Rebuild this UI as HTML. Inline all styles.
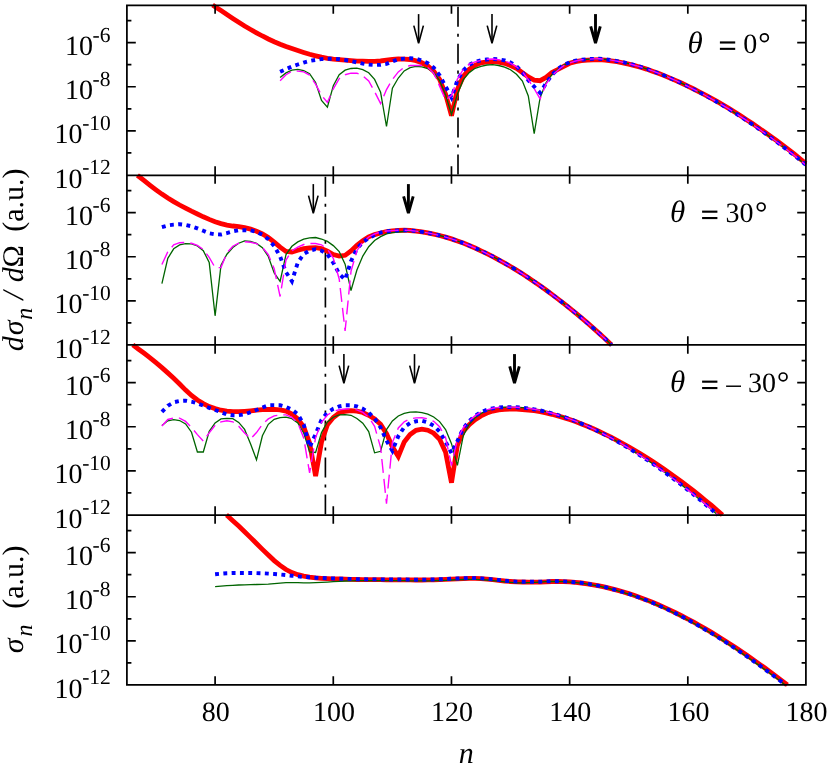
<!DOCTYPE html>
<html><head><meta charset="utf-8"><title>chart</title>
<style>html,body{margin:0;padding:0;background:#fff;}svg{display:block;will-change:transform;text-rendering:geometricPrecision;font-family:"Liberation Serif",serif;}.t{font-size:28px;fill:#000;}.s{font-size:21.5px;fill:#000;}.a{font-size:30px;fill:#000;}.b{font-size:24px;fill:#000;}.i{font-style:italic;}</style></head><body>
<svg width="830" height="766" viewBox="0 0 830 766">
<rect x="0" y="0" width="830" height="766" fill="#fff"/>
<defs>
<clipPath id="c0"><rect x="127.0" y="3.0" width="680.5" height="174.0"/></clipPath>
<clipPath id="c1"><rect x="127.0" y="173.0" width="680.5" height="174.0"/></clipPath>
<clipPath id="c2"><rect x="127.0" y="343.0" width="680.5" height="174.0"/></clipPath>
<clipPath id="c3"><rect x="127.0" y="513.0" width="680.5" height="174.0"/></clipPath>
</defs>
<g stroke="#000" stroke-width="1.65" fill="none" stroke-dasharray="20 6.9 3.1 6.9">
<line x1="458.0" y1="6.8" x2="458.0" y2="175.0"/>
<line x1="325.4" y1="176.8" x2="325.4" y2="345.0"/>
<line x1="325.4" y1="346.8" x2="325.4" y2="515.0"/>
</g>
<g stroke="#000" stroke-width="1.6" fill="none" stroke-linejoin="bevel"><line x1="418.6" y1="14.1" x2="418.6" y2="42.20"/><polyline points="413.80,25.60 418.6,43.20 423.40,25.60"/></g>
<g stroke="#000" stroke-width="1.6" fill="none" stroke-linejoin="bevel"><line x1="492.0" y1="14.1" x2="492.0" y2="42.20"/><polyline points="487.20,25.60 492.0,43.20 496.80,25.60"/></g>
<g stroke="#000" stroke-width="2.9" fill="none" stroke-linejoin="bevel"><line x1="595.5" y1="14.1" x2="595.5" y2="42.00"/><polyline points="590.70,26.30 595.5,43.00 600.30,26.30"/></g>
<g stroke="#000" stroke-width="1.6" fill="none" stroke-linejoin="bevel"><line x1="313.3" y1="184.1" x2="313.3" y2="212.20"/><polyline points="308.50,195.60 313.3,213.20 318.10,195.60"/></g>
<g stroke="#000" stroke-width="2.9" fill="none" stroke-linejoin="bevel"><line x1="408.4" y1="184.1" x2="408.4" y2="212.00"/><polyline points="403.60,196.30 408.4,213.00 413.20,196.30"/></g>
<g stroke="#000" stroke-width="1.6" fill="none" stroke-linejoin="bevel"><line x1="343.9" y1="354.1" x2="343.9" y2="382.20"/><polyline points="339.10,365.60 343.9,383.20 348.70,365.60"/></g>
<g stroke="#000" stroke-width="1.6" fill="none" stroke-linejoin="bevel"><line x1="414.5" y1="354.1" x2="414.5" y2="382.20"/><polyline points="409.70,365.60 414.5,383.20 419.30,365.60"/></g>
<g stroke="#000" stroke-width="2.9" fill="none" stroke-linejoin="bevel"><line x1="514.5" y1="354.1" x2="514.5" y2="382.00"/><polyline points="509.70,366.30 514.5,383.00 519.30,366.30"/></g>
<g clip-path="url(#c0)" fill="none">
<polyline points="212.6,5.1 215.1,6.7 221.0,10.6 226.9,14.5 232.8,18.4 238.7,22.2 244.6,26.0 250.6,29.5 256.5,32.8 262.4,36.0 268.3,39.0 274.2,41.7 280.1,44.2 286.0,46.5 291.9,48.6 297.8,50.6 303.7,52.5 309.6,54.3 315.6,55.8 321.5,57.2 327.4,58.3 333.3,59.1 339.2,59.7 345.1,60.2 351.0,60.7 356.9,61.1 362.8,61.2 368.7,61.4 374.6,61.4 380.6,61.0 386.5,60.2 392.4,59.5 398.3,59.0 404.2,59.1 410.1,59.5 416.0,60.7 421.9,62.8 427.8,66.1 433.7,71.1 439.6,79.3 445.6,94.2 451.5,115.7 457.4,89.4 463.3,76.4 469.2,69.3 475.1,65.3 481.0,62.9 486.9,61.8 492.8,61.4 498.7,62.1 504.6,63.3 510.5,65.5 516.5,68.4 522.4,72.6 528.3,76.9 534.2,80.1 540.1,80.7 546.0,77.4 551.9,72.6 557.8,69.5 563.7,66.4 569.6,63.3 575.5,61.6 581.5,60.6 587.4,60.1 593.3,59.8 599.2,59.6 605.1,60.1 611.0,60.8 616.9,61.7 622.8,62.8 628.7,64.1 634.6,65.6 640.5,67.3 646.5,69.1 652.4,71.2 658.3,73.3 664.2,75.6 670.1,78.1 676.0,80.6 681.9,83.3 687.8,86.1 693.7,89.0 699.6,92.0 705.5,95.2 711.5,98.4 717.4,101.7 723.3,105.1 729.2,108.6 735.1,112.3 741.0,116.0 746.9,119.9 752.8,123.8 758.7,127.9 764.6,132.0 770.5,136.2 776.5,140.5 782.4,144.9 788.3,149.4 794.2,154.0 800.1,158.8 805.9,163.5" stroke="#ff0000" stroke-width="4.8" stroke-linejoin="miter" stroke-miterlimit="3"/>
<polyline points="280.1,77.6 286.0,72.9 291.9,70.1 297.8,69.4 303.7,70.5 309.6,73.7 315.6,82.6 321.5,100.5 327.4,107.2 333.3,85.8 339.2,74.7 345.1,70.2 351.0,68.5 356.9,68.1 362.8,69.6 368.7,72.7 374.6,79.4 380.6,92.3 386.5,126.5 392.4,88.2 398.3,78.0 404.2,70.9 410.1,67.6 416.0,66.3 421.9,66.9 427.8,68.5 433.7,72.4 439.6,80.5 445.6,94.9 451.5,114.5 457.4,94.2 463.3,79.7 469.2,72.6 475.1,68.3 481.0,66.3 486.9,65.0 492.8,64.6 498.7,65.5 504.6,67.1 510.5,69.7 516.5,74.3 522.4,81.0 528.3,96.0 534.2,133.7 540.1,97.7 546.0,82.9 551.9,74.6 557.8,69.2 563.7,65.1 569.6,62.5 575.5,60.8 581.5,59.8 587.4,59.3 593.3,58.9 599.2,58.8 605.1,59.3 611.0,60.1 616.9,61.1 622.8,62.2 628.7,63.6 634.6,65.2 640.5,66.9 646.5,68.9 652.4,70.9 658.3,73.2 664.2,75.5 670.1,78.1 676.0,80.7 681.9,83.4 687.8,86.3 693.7,89.3 699.6,92.4 705.5,95.5 711.5,98.8 717.4,102.2 723.3,105.7 729.2,109.2 735.1,113.0 741.0,116.8 746.9,120.7 752.8,124.7 758.7,128.8 764.6,133.0 770.5,137.3 776.5,141.7 782.4,146.2 788.3,150.7 794.2,155.4 800.1,160.2 805.9,165.0" stroke="#006400" stroke-width="1.3" stroke-linejoin="miter"/>
<polyline points="280.1,71.8 286.0,69.1 291.9,66.6 297.8,64.5 303.7,62.5 309.6,60.9 315.6,59.9 321.5,59.1 327.4,58.7 333.3,58.7 339.2,59.2 345.1,60.0 351.0,61.0 356.9,62.4 362.8,63.7 368.7,64.6 374.6,65.0 380.6,64.8 386.5,63.9 392.4,61.5 398.3,59.3 404.2,58.6 410.1,58.3 416.0,58.8 421.9,60.6 427.8,63.2 433.7,67.6 439.6,75.3 445.6,86.4 451.5,97.5 457.4,80.4 463.3,70.4 469.2,64.9 475.1,62.0 481.0,60.3 486.9,59.5 492.8,59.0 498.7,59.3 504.6,60.4 510.5,62.4 516.5,66.2 522.4,72.3 528.3,80.2 534.2,86.7 540.1,92.8 546.0,83.4 551.9,74.8 557.8,69.1 563.7,64.9 569.6,62.3 575.5,60.7 581.5,59.7 587.4,59.2 593.3,58.9 599.2,58.8 605.1,59.3 611.0,60.1 616.9,61.1 622.8,62.2 628.7,63.6 634.6,65.2 640.5,66.9 646.5,68.9 652.4,70.9 658.3,73.2 664.2,75.5 670.1,78.1 676.0,80.7 681.9,83.4 687.8,86.3 693.7,89.3 699.6,92.4 705.5,95.5 711.5,98.8 717.4,102.2 723.3,105.7 729.2,109.2 735.1,113.0 741.0,116.8 746.9,120.7 752.8,124.7 758.7,128.8 764.6,133.0 770.5,137.3 776.5,141.7 782.4,146.2 788.3,150.7 794.2,155.4 800.1,160.2 805.9,165.0" stroke="#0000ff" stroke-width="3.9" stroke-dasharray="3.9 4.4"/>
<polyline points="280.1,80.7 286.0,74.7 291.9,71.3 297.8,71.1 303.7,71.9 309.6,75.1 315.6,84.1 321.5,95.3 327.4,102.4 333.3,88.9 339.2,78.7 345.1,74.7 351.0,73.1 356.9,73.2 362.8,75.9 368.7,81.0 374.6,91.6 380.6,103.6 386.5,89.6 392.4,79.5 398.3,71.9 404.2,67.4 410.1,65.5 416.0,65.5 421.9,65.5 427.8,67.5 433.7,73.1 439.6,86.1 445.6,100.0 451.5,95.5 457.4,79.1 463.3,69.5 469.2,64.2 475.1,61.8 481.0,60.3 486.9,59.3 492.8,59.0 498.7,59.7 504.6,61.1 510.5,63.1 516.5,66.8 522.4,71.7 528.3,79.7 534.2,88.7 540.1,98.8 546.0,84.2 551.9,75.9 557.8,70.2 563.7,65.7 569.6,62.9 575.5,61.0 581.5,59.8 587.4,59.3 593.3,58.9 599.2,58.8 605.1,59.3 611.0,60.1 616.9,61.1 622.8,62.2 628.7,63.6 634.6,65.2 640.5,66.9 646.5,68.9 652.4,70.9 658.3,73.2 664.2,75.5 670.1,78.1 676.0,80.7 681.9,83.4 687.8,86.3 693.7,89.3 699.6,92.4 705.5,95.5 711.5,98.8 717.4,102.2 723.3,105.7 729.2,109.2 735.1,113.0 741.0,116.8 746.9,120.7 752.8,124.7 758.7,128.8 764.6,133.0 770.5,137.3 776.5,141.7 782.4,146.2 788.3,150.7 794.2,155.4 800.1,160.2 805.9,165.0" stroke="#ff00ff" stroke-width="1.4" stroke-dasharray="14 6"/>
</g>
<g clip-path="url(#c1)" fill="none">
<polyline points="137.4,175.3 138.3,176.0 144.2,180.7 150.1,185.3 156.0,189.8 161.9,194.1 167.8,198.0 173.7,201.6 179.6,205.0 185.6,208.2 191.5,211.2 197.4,214.0 203.3,216.8 209.2,219.4 215.1,221.7 221.0,223.6 226.9,225.1 232.8,226.0 238.7,226.7 244.6,227.7 250.6,229.1 256.5,231.2 262.4,233.9 268.3,237.5 274.2,242.2 280.1,247.2 286.0,251.4 291.9,252.0 297.8,250.3 303.7,248.7 309.6,248.0 315.6,247.6 321.5,248.6 327.4,251.1 333.3,254.5 339.2,256.1 345.1,255.3 351.0,250.9 356.9,245.4 362.8,240.7 368.7,236.8 374.6,234.6 380.6,233.0 386.5,231.7 392.4,230.9 398.3,230.4 404.2,230.2 410.1,230.5 416.0,231.1 421.9,231.9 427.8,232.9 433.7,234.1 439.6,235.5 445.6,237.1 451.5,238.9 457.4,241.0 463.3,243.1 469.2,245.5 475.1,248.0 481.0,250.8 486.9,253.6 492.8,256.6 498.7,259.8 504.6,263.1 510.5,266.5 516.5,270.1 522.4,273.8 528.3,277.7 534.2,281.7 540.1,285.8 546.0,290.0 551.9,294.4 557.8,298.8 563.7,303.4 569.6,308.1 575.5,312.9 581.5,317.9 587.4,322.9 593.3,328.1 599.2,333.4 605.1,338.8 611.0,344.4 611.6,344.9" stroke="#ff0000" stroke-width="4.8" stroke-linejoin="miter" stroke-miterlimit="3"/>
<polyline points="161.9,283.7 167.8,258.3 173.7,248.8 179.6,244.9 185.6,243.7 191.5,243.8 197.4,246.0 203.3,250.7 209.2,262.5 215.1,315.8 221.0,265.2 226.9,254.2 232.8,247.5 238.7,243.2 244.6,240.9 250.6,241.4 256.5,243.4 262.4,247.7 268.3,256.5 274.2,272.9 280.1,281.3 286.0,254.6 291.9,246.3 297.8,241.9 303.7,239.1 309.6,237.9 315.6,237.5 321.5,239.0 327.4,241.4 333.3,245.6 339.2,251.6 345.1,264.1 351.0,290.5 356.9,270.0 362.8,256.1 368.7,246.7 374.6,240.5 380.6,236.6 386.5,233.8 392.4,232.7 398.3,232.0 404.2,231.5 410.1,231.2 416.0,231.1 421.9,231.9 427.8,232.9 433.7,234.1 439.6,235.5 445.6,237.1 451.5,238.9 457.4,241.0 463.3,243.1 469.2,245.5 475.1,248.0 481.0,250.8 486.9,253.6 492.8,256.6 498.7,259.8 504.6,263.1 510.5,266.5 516.5,270.1 522.4,273.8 528.3,277.7 534.2,281.7 540.1,285.8 546.0,290.0 551.9,294.4 557.8,298.8 563.7,303.4 569.6,308.1 575.5,312.9 581.5,317.9 587.4,322.9 593.3,328.1 599.2,333.4 605.1,338.8 611.0,344.4 611.6,344.9" stroke="#006400" stroke-width="1.3" stroke-linejoin="miter"/>
<polyline points="161.9,227.1 167.8,225.4 173.7,224.6 179.6,224.2 185.6,224.9 191.5,226.3 197.4,228.4 203.3,230.8 209.2,233.3 215.1,234.3 221.0,234.5 226.9,233.1 232.8,231.3 238.7,230.2 244.6,230.2 250.6,230.4 256.5,231.9 262.4,234.7 268.3,239.2 274.2,246.0 280.1,256.5 286.0,272.2 291.9,281.2 297.8,262.6 303.7,254.0 309.6,250.6 315.6,249.2 321.5,250.7 327.4,254.4 333.3,262.8 339.2,273.8 345.1,279.6 351.0,261.2 356.9,248.8 362.8,242.2 368.7,238.1 374.6,235.0 380.6,232.5 386.5,231.3 392.4,230.8 398.3,230.4 404.2,230.2 410.1,230.5 416.0,231.1 421.9,231.9 427.8,232.9 433.7,234.1 439.6,235.5 445.6,237.1 451.5,238.9 457.4,241.0 463.3,243.1 469.2,245.5 475.1,248.0 481.0,250.8 486.9,253.6 492.8,256.6 498.7,259.8 504.6,263.1 510.5,266.5 516.5,270.1 522.4,273.8 528.3,277.7 534.2,281.7 540.1,285.8 546.0,290.0 551.9,294.4 557.8,298.8 563.7,303.4 569.6,308.1 575.5,312.9 581.5,317.9 587.4,322.9 593.3,328.1 599.2,333.4 605.1,338.8 611.0,344.4 611.6,344.9" stroke="#0000ff" stroke-width="3.9" stroke-dasharray="3.9 4.4"/>
<polyline points="161.9,264.5 167.8,251.8 173.7,244.9 179.6,242.7 185.6,242.4 191.5,243.3 197.4,245.4 203.3,249.5 209.2,257.4 215.1,267.6 221.0,267.6 226.9,253.0 232.8,246.2 238.7,243.2 244.6,241.8 250.6,242.3 256.5,243.6 262.4,247.4 268.3,254.5 274.2,268.8 280.1,296.5 286.0,260.0 291.9,250.8 297.8,247.2 303.7,244.5 309.6,243.5 315.6,243.5 321.5,244.8 327.4,249.1 333.3,258.3 339.2,279.0 345.1,331.0 351.0,271.4 356.9,250.7 362.8,242.1 368.7,237.0 374.6,234.0 380.6,231.9 386.5,231.0 392.4,230.6 398.3,230.3 404.2,230.2 410.1,230.5 416.0,231.1 421.9,231.9 427.8,232.9 433.7,234.1 439.6,235.5 445.6,237.1 451.5,238.9 457.4,241.0 463.3,243.1 469.2,245.5 475.1,248.0 481.0,250.8 486.9,253.6 492.8,256.6 498.7,259.8 504.6,263.1 510.5,266.5 516.5,270.1 522.4,273.8 528.3,277.7 534.2,281.7 540.1,285.8 546.0,290.0 551.9,294.4 557.8,298.8 563.7,303.4 569.6,308.1 575.5,312.9 581.5,317.9 587.4,322.9 593.3,328.1 599.2,333.4 605.1,338.8 611.0,344.4 611.6,344.9" stroke="#ff00ff" stroke-width="1.4" stroke-dasharray="14 6"/>
</g>
<g clip-path="url(#c2)" fill="none">
<polyline points="132.8,344.9 138.3,349.0 144.2,353.3 150.1,357.8 156.0,362.6 161.9,367.6 167.8,372.9 173.7,378.3 179.6,384.0 185.6,390.1 191.5,395.5 197.4,400.0 203.3,403.6 209.2,406.6 215.1,408.6 221.0,410.2 226.9,411.1 232.8,411.7 238.7,411.7 244.6,411.3 250.6,410.8 256.5,410.2 262.4,409.7 268.3,409.5 274.2,409.4 280.1,409.8 286.0,411.1 291.9,414.0 297.8,419.0 303.7,427.0 309.6,443.0 315.6,476.1 321.5,442.0 327.4,424.8 333.3,417.5 339.2,413.0 345.1,411.3 351.0,410.6 356.9,411.2 362.8,412.5 368.7,415.3 374.6,418.9 380.6,424.3 386.5,433.6 392.4,446.8 398.3,456.4 404.2,442.0 410.1,434.6 416.0,430.3 421.9,429.2 427.8,430.2 433.7,433.2 439.6,439.2 445.6,452.2 451.5,482.7 457.4,445.2 463.3,431.3 469.2,424.6 475.1,419.6 481.0,415.9 486.9,413.1 492.8,411.1 498.7,409.8 504.6,409.3 510.5,409.1 516.5,409.2 522.4,409.5 528.3,410.0 534.2,410.7 540.1,411.7 546.0,412.9 551.9,414.3 557.8,415.9 563.7,417.6 569.6,419.5 575.5,421.6 581.5,423.9 587.4,426.2 593.3,428.8 599.2,431.5 605.1,434.3 611.0,437.2 616.9,440.3 622.8,443.5 628.7,446.8 634.6,450.2 640.5,453.8 646.5,457.5 652.4,461.3 658.3,465.2 664.2,469.3 670.1,473.4 676.0,477.6 681.9,482.0 687.8,486.4 693.7,491.0 699.6,495.7 705.5,500.5 711.5,505.4 717.4,510.5 722.5,515.0" stroke="#ff0000" stroke-width="4.8" stroke-linejoin="miter" stroke-miterlimit="3"/>
<polyline points="161.9,425.5 167.8,420.8 173.7,419.6 179.6,420.5 185.6,423.9 191.5,432.2 197.4,452.0 203.3,452.0 209.2,431.4 215.1,423.0 221.0,418.9 226.9,418.3 232.8,418.7 238.7,422.4 244.6,429.4 250.6,444.0 256.5,459.8 262.4,435.8 268.3,424.3 274.2,419.3 280.1,417.6 286.0,417.1 291.9,418.7 297.8,423.0 303.7,432.9 309.6,452.0 315.6,452.5 321.5,432.6 327.4,422.0 333.3,417.2 339.2,414.9 345.1,414.7 351.0,415.3 356.9,418.5 362.8,423.2 368.7,431.5 374.6,452.8 380.6,451.3 386.5,429.6 392.4,420.9 398.3,416.0 404.2,413.4 410.1,412.2 416.0,411.8 421.9,412.6 427.8,414.2 433.7,417.0 439.6,421.6 445.6,429.6 451.5,443.7 457.4,465.3 463.3,435.7 469.2,424.3 475.1,417.8 481.0,413.4 486.9,410.7 492.8,408.8 498.7,407.4 504.6,407.1 510.5,407.1 516.5,407.3 522.4,407.7 528.3,408.4 534.2,409.3 540.1,410.4 546.0,411.7 551.9,413.3 557.8,415.0 563.7,416.9 569.6,418.9 575.5,421.2 581.5,423.6 587.4,426.2 593.3,428.9 599.2,431.8 605.1,434.8 611.0,437.9 616.9,441.2 622.8,444.6 628.7,448.2 634.6,451.9 640.5,455.7 646.5,459.5 652.4,463.5 658.3,467.7 664.2,471.9 670.1,476.2 676.0,480.7 681.9,485.2 687.8,489.9 693.7,494.6 699.6,499.5 705.5,504.4 711.5,509.5 717.4,514.7 717.7,515.0" stroke="#006400" stroke-width="1.3" stroke-linejoin="miter"/>
<polyline points="161.9,411.8 167.8,405.8 173.7,402.3 179.6,401.0 185.6,400.7 191.5,401.7 197.4,403.4 203.3,405.6 209.2,407.8 215.1,410.0 221.0,412.2 226.9,414.5 232.8,415.2 238.7,415.2 244.6,414.4 250.6,412.1 256.5,410.0 262.4,407.5 268.3,405.2 274.2,405.1 280.1,405.2 286.0,406.9 291.9,409.6 297.8,414.3 303.7,424.4 309.6,447.2 315.6,434.1 321.5,419.8 327.4,412.6 333.3,408.8 339.2,406.4 345.1,405.3 351.0,405.3 356.9,406.4 362.8,408.7 368.7,412.5 374.6,418.5 380.6,427.5 386.5,440.7 392.4,450.8 398.3,436.2 404.2,427.1 410.1,423.1 416.0,421.3 421.9,420.8 427.8,422.4 433.7,425.8 439.6,431.7 445.6,441.6 451.5,453.3 457.4,441.1 463.3,428.4 469.2,421.0 475.1,415.8 481.0,412.1 486.9,409.8 492.8,408.3 498.7,407.4 504.6,407.1 510.5,407.1 516.5,407.3 522.4,407.7 528.3,408.4 534.2,409.3 540.1,410.4 546.0,411.7 551.9,413.3 557.8,415.0 563.7,416.9 569.6,418.9 575.5,421.2 581.5,423.6 587.4,426.2 593.3,428.9 599.2,431.8 605.1,434.8 611.0,437.9 616.9,441.2 622.8,444.6 628.7,448.2 634.6,451.9 640.5,455.7 646.5,459.5 652.4,463.5 658.3,467.7 664.2,471.9 670.1,476.2 676.0,480.7 681.9,485.2 687.8,489.9 693.7,494.6 699.6,499.5 705.5,504.4 711.5,509.5 717.4,514.7 717.7,515.0" stroke="#0000ff" stroke-width="3.9" stroke-dasharray="3.9 4.4"/>
<polyline points="161.9,426.0 167.8,419.5 173.7,418.1 179.6,418.1 185.6,421.4 191.5,427.5 197.4,434.6 203.3,441.2 209.2,432.8 215.1,425.3 221.0,421.9 226.9,420.7 232.8,421.8 238.7,426.2 244.6,432.9 250.6,438.8 256.5,432.6 262.4,424.4 268.3,418.9 274.2,415.9 280.1,414.9 286.0,414.9 291.9,417.4 297.8,422.9 303.7,437.9 309.6,473.0 315.6,437.6 321.5,422.3 327.4,415.0 333.3,411.4 339.2,409.7 345.1,409.0 351.0,408.7 356.9,409.9 362.8,412.4 368.7,417.1 374.6,426.3 380.6,447.6 386.5,503.6 392.4,442.5 398.3,428.0 404.2,421.8 410.1,418.9 416.0,417.9 421.9,417.7 427.8,418.8 433.7,421.3 439.6,426.7 445.6,437.7 451.5,465.5 457.4,439.1 463.3,427.7 469.2,420.7 475.1,415.6 481.0,412.1 486.9,409.8 492.8,408.3 498.7,407.4 504.6,407.1 510.5,407.1 516.5,407.3 522.4,407.7 528.3,408.4 534.2,409.3 540.1,410.4 546.0,411.7 551.9,413.3 557.8,415.0 563.7,416.9 569.6,418.9 575.5,421.2 581.5,423.6 587.4,426.2 593.3,428.9 599.2,431.8 605.1,434.8 611.0,437.9 616.9,441.2 622.8,444.6 628.7,448.2 634.6,451.9 640.5,455.7 646.5,459.5 652.4,463.5 658.3,467.7 664.2,471.9 670.1,476.2 676.0,480.7 681.9,485.2 687.8,489.9 693.7,494.6 699.6,499.5 705.5,504.4 711.5,509.5 717.4,514.7 717.7,515.0" stroke="#ff00ff" stroke-width="1.4" stroke-dasharray="14 6"/>
</g>
<g clip-path="url(#c3)" fill="none">
<polyline points="226.5,515.0 226.9,515.3 232.8,520.7 238.7,526.0 244.6,531.7 250.6,537.6 256.5,543.5 262.4,549.4 268.3,555.1 274.2,560.6 280.1,565.4 286.0,569.5 291.9,572.6 297.8,574.7 303.7,576.2 309.6,577.2 315.6,577.9 321.5,578.3 327.4,578.6 333.3,578.8 339.2,579.0 345.1,579.1 351.0,579.3 356.9,579.5 362.8,579.6 368.7,579.7 374.6,579.7 380.6,579.7 386.5,579.8 392.4,579.8 398.3,579.8 404.2,579.8 410.1,579.9 416.0,580.0 421.9,580.0 427.8,579.9 433.7,579.8 439.6,579.6 445.6,579.4 451.5,579.1 457.4,578.8 463.3,578.6 469.2,578.4 475.1,578.4 481.0,578.7 486.9,579.1 492.8,579.7 498.7,580.3 504.6,581.0 510.5,581.5 516.5,581.9 522.4,582.0 528.3,582.1 534.2,582.1 540.1,582.1 546.0,581.8 551.9,581.5 557.8,581.5 563.7,581.6 569.6,581.9 575.5,582.4 581.5,583.0 587.4,583.8 593.3,584.8 599.2,585.9 605.1,587.1 611.0,588.6 616.9,590.1 622.8,591.8 628.7,593.6 634.6,595.6 640.5,597.7 646.5,599.9 652.4,602.3 658.3,604.8 664.2,607.4 670.1,610.1 676.0,613.0 681.9,616.0 687.8,619.0 693.7,622.2 699.6,625.5 705.5,628.9 711.5,632.4 717.4,636.0 723.3,639.7 729.2,643.4 735.1,647.3 741.0,651.3 746.9,655.3 752.8,659.4 758.7,663.6 764.6,667.8 770.5,672.2 776.5,676.6 782.4,681.1 787.4,684.9" stroke="#ff0000" stroke-width="4.8" stroke-linejoin="miter" stroke-miterlimit="3"/>
<polyline points="215.1,586.6 221.0,586.1 226.9,585.7 232.8,585.3 238.7,585.0 244.6,584.8 250.6,584.6 256.5,584.5 262.4,584.4 268.3,584.2 274.2,583.7 280.1,583.1 286.0,582.7 291.9,582.6 297.8,582.7 303.7,582.9 309.6,582.9 315.6,582.7 321.5,582.4 327.4,582.1 333.3,581.7 339.2,581.3 345.1,581.0 351.0,580.8 356.9,580.7 362.8,580.6 368.7,580.6 374.6,580.6 380.6,580.6 386.5,580.6 392.4,580.7 398.3,580.7 404.2,580.7 410.1,580.8 416.0,580.9 421.9,580.9 427.8,580.8 433.7,580.7 439.6,580.5 445.6,580.3 451.5,580.0 457.4,579.7 463.3,579.5 469.2,579.3 475.1,579.3 481.0,579.6 486.9,580.0 492.8,580.6 498.7,581.2 504.6,581.9 510.5,582.4 516.5,582.8 522.4,582.9 528.3,582.7 534.2,582.4 540.1,582.1 546.0,581.7 551.9,581.5 557.8,581.5 563.7,581.7 569.6,582.1 575.5,582.6 581.5,583.2 587.4,584.1 593.3,585.1 599.2,586.2 605.1,587.5 611.0,589.0 616.9,590.6 622.8,592.3 628.7,594.2 634.6,596.2 640.5,598.3 646.5,600.6 652.4,603.0 658.3,605.6 664.2,608.2 670.1,611.0 676.0,613.9 681.9,616.9 687.8,620.0 693.7,623.2 699.6,626.6 705.5,630.0 711.5,633.5 717.4,637.2 723.3,640.9 729.2,644.7 735.1,648.6 741.0,652.6 746.9,656.7 752.8,660.9 758.7,665.1 764.6,669.4 770.5,673.8 776.5,678.2 782.4,682.7 785.2,684.9" stroke="#006400" stroke-width="1.3" stroke-linejoin="miter"/>
<polyline points="215.1,574.3 221.0,573.7 226.9,573.2 232.8,573.0 238.7,573.0 244.6,573.0 250.6,573.0 256.5,573.1 262.4,573.3 268.3,573.6 274.2,574.0 280.1,574.5 286.0,575.1 291.9,575.7 297.8,576.4 303.7,576.9 309.6,577.3 315.6,577.7 321.5,578.0 327.4,578.3 333.3,578.5 339.2,578.7 345.1,578.8 351.0,579.0 356.9,579.2 362.8,579.3 368.7,579.4 374.6,579.4 380.6,579.4 386.5,579.5 392.4,579.5 398.3,579.5 404.2,579.5 410.1,579.6 416.0,579.7 421.9,579.7 427.8,579.6 433.7,579.5 439.6,579.3 445.6,579.1 451.5,578.8 457.4,578.5 463.3,578.3 469.2,578.1 475.1,578.1 481.0,578.4 486.9,578.8 492.8,579.4 498.7,580.0 504.6,580.7 510.5,581.2 516.5,581.6 522.4,581.7 528.3,581.7 534.2,581.7 540.1,581.7 546.0,581.4 551.9,581.2 557.8,581.2 563.7,581.4 569.6,581.8 575.5,582.3 581.5,582.9 587.4,583.8 593.3,584.8 599.2,585.9 605.1,587.2 611.0,588.7 616.9,590.3 622.8,592.0 628.7,593.9 634.6,595.9 640.5,598.0 646.5,600.3 652.4,602.7 658.3,605.3 664.2,607.9 670.1,610.7 676.0,613.6 681.9,616.6 687.8,619.7 693.7,622.9 699.6,626.3 705.5,629.7 711.5,633.2 717.4,636.9 723.3,640.6 729.2,644.4 735.1,648.3 741.0,652.3 746.9,656.4 752.8,660.6 758.7,664.8 764.6,669.1 770.5,673.5 776.5,677.9 782.4,682.4 785.6,684.9" stroke="#0000ff" stroke-width="3.9" stroke-dasharray="3.9 4.4"/>
</g>
<g stroke="#000" fill="none">
<path d="M126.9,5.45H805.9V684.9H126.9Z" stroke-width="1.75" stroke-linejoin="miter"/>
<line x1="126.9" y1="175.3" x2="805.9" y2="175.3" stroke-width="1.75"/>
<line x1="126.9" y1="344.9" x2="805.9" y2="344.9" stroke-width="1.75"/>
<line x1="126.9" y1="515.0" x2="805.9" y2="515.0" stroke-width="1.75"/>
<path d="M215.10,175.0v-8.8 M215.10,5.0v8.8 M333.28,175.0v-8.8 M333.28,5.0v8.8 M451.46,175.0v-8.8 M451.46,5.0v8.8 M569.64,175.0v-8.8 M569.64,5.0v8.8 M687.82,175.0v-8.8 M687.82,5.0v8.8 M127.0,152.94h4.4 M806.0,152.94h-4.4 M127.0,130.88h8.8 M806.0,130.88h-8.8 M127.0,108.82h4.4 M806.0,108.82h-4.4 M127.0,86.76h8.8 M806.0,86.76h-8.8 M127.0,64.70h4.4 M806.0,64.70h-4.4 M127.0,42.64h8.8 M806.0,42.64h-8.8 M127.0,20.58h4.4 M806.0,20.58h-4.4 M215.10,345.0v-8.8 M215.10,175.0v8.8 M333.28,345.0v-8.8 M333.28,175.0v8.8 M451.46,345.0v-8.8 M451.46,175.0v8.8 M569.64,345.0v-8.8 M569.64,175.0v8.8 M687.82,345.0v-8.8 M687.82,175.0v8.8 M127.0,322.94h4.4 M806.0,322.94h-4.4 M127.0,300.88h8.8 M806.0,300.88h-8.8 M127.0,278.82h4.4 M806.0,278.82h-4.4 M127.0,256.76h8.8 M806.0,256.76h-8.8 M127.0,234.70h4.4 M806.0,234.70h-4.4 M127.0,212.64h8.8 M806.0,212.64h-8.8 M127.0,190.58h4.4 M806.0,190.58h-4.4 M215.10,515.0v-8.8 M215.10,345.0v8.8 M333.28,515.0v-8.8 M333.28,345.0v8.8 M451.46,515.0v-8.8 M451.46,345.0v8.8 M569.64,515.0v-8.8 M569.64,345.0v8.8 M687.82,515.0v-8.8 M687.82,345.0v8.8 M127.0,492.94h4.4 M806.0,492.94h-4.4 M127.0,470.88h8.8 M806.0,470.88h-8.8 M127.0,448.82h4.4 M806.0,448.82h-4.4 M127.0,426.76h8.8 M806.0,426.76h-8.8 M127.0,404.70h4.4 M806.0,404.70h-4.4 M127.0,382.64h8.8 M806.0,382.64h-8.8 M127.0,360.58h4.4 M806.0,360.58h-4.4 M215.10,685.0v-8.8 M215.10,515.0v8.8 M333.28,685.0v-8.8 M333.28,515.0v8.8 M451.46,685.0v-8.8 M451.46,515.0v8.8 M569.64,685.0v-8.8 M569.64,515.0v8.8 M687.82,685.0v-8.8 M687.82,515.0v8.8 M127.0,662.94h4.4 M806.0,662.94h-4.4 M127.0,640.88h8.8 M806.0,640.88h-8.8 M127.0,618.82h4.4 M806.0,618.82h-4.4 M127.0,596.76h8.8 M806.0,596.76h-8.8 M127.0,574.70h4.4 M806.0,574.70h-4.4 M127.0,552.64h8.8 M806.0,552.64h-8.8 M127.0,530.58h4.4 M806.0,530.58h-4.4" stroke-width="1.7"/>
</g>
<text class="t" x="64.9" y="55.1">10</text><text class="s" x="92.6" y="41.6">-6</text>
<text class="t" x="64.9" y="99.3">10</text><text class="s" x="92.6" y="85.8">-8</text>
<text class="t" x="54.5" y="143.4">10</text><text class="s" x="82.2" y="129.9">-10</text>
<text class="t" x="54.5" y="187.5">10</text><text class="s" x="82.2" y="174.0">-12</text>
<text class="t" x="64.9" y="225.1">10</text><text class="s" x="92.6" y="211.6">-6</text>
<text class="t" x="64.9" y="269.3">10</text><text class="s" x="92.6" y="255.8">-8</text>
<text class="t" x="54.5" y="313.4">10</text><text class="s" x="82.2" y="299.9">-10</text>
<text class="t" x="54.5" y="357.5">10</text><text class="s" x="82.2" y="344.0">-12</text>
<text class="t" x="64.9" y="395.1">10</text><text class="s" x="92.6" y="381.6">-6</text>
<text class="t" x="64.9" y="439.3">10</text><text class="s" x="92.6" y="425.8">-8</text>
<text class="t" x="54.5" y="483.4">10</text><text class="s" x="82.2" y="469.9">-10</text>
<text class="t" x="54.5" y="527.5">10</text><text class="s" x="82.2" y="514.0">-12</text>
<text class="t" x="64.9" y="565.1">10</text><text class="s" x="92.6" y="551.6">-6</text>
<text class="t" x="64.9" y="609.3">10</text><text class="s" x="92.6" y="595.8">-8</text>
<text class="t" x="54.5" y="653.4">10</text><text class="s" x="82.2" y="639.9">-10</text>
<text class="t" x="54.5" y="697.5">10</text><text class="s" x="82.2" y="684.0">-12</text>
<text class="t" x="215.7" y="721.2" text-anchor="middle">80</text>
<text class="t" x="333.9" y="721.2" text-anchor="middle">100</text>
<text class="t" x="452.1" y="721.2" text-anchor="middle">120</text>
<text class="t" x="570.2" y="721.2" text-anchor="middle">140</text>
<text class="t" x="688.4" y="721.2" text-anchor="middle">160</text>
<text class="t" x="806.6" y="721.2" text-anchor="middle">180</text>
<text class="a i" x="458.8" y="762.9">n</text>
<text class="i" x="687.6" y="53.2" style="font-size:31px">θ</text>
<rect x="719.9" y="41.40" width="15.3" height="2.15" fill="#000"/>
<rect x="719.9" y="47.80" width="15.3" height="2.1" fill="#000"/>
<text class="t" x="743.2" y="53.2">0</text>
<circle cx="764.4" cy="37.70" r="3.9" fill="none" stroke="#000" stroke-width="1.7"/>
<text class="i" x="669.9" y="222.4" style="font-size:31px">θ</text>
<rect x="702.1" y="210.60" width="15.3" height="2.15" fill="#000"/>
<rect x="702.1" y="217.00" width="15.3" height="2.1" fill="#000"/>
<text class="t" x="725.6" y="222.4">30</text>
<circle cx="761.2" cy="206.90" r="3.9" fill="none" stroke="#000" stroke-width="1.7"/>
<text class="i" x="669.9" y="392.4" style="font-size:31px">θ</text>
<rect x="702.1" y="380.60" width="15.3" height="2.15" fill="#000"/>
<rect x="702.1" y="387.00" width="15.3" height="2.1" fill="#000"/>
<rect x="726.1" y="385.50" width="14.9" height="1.45" fill="#000"/>
<text class="t" x="747.9" y="392.4">30</text>
<circle cx="783.1" cy="376.90" r="3.9" fill="none" stroke="#000" stroke-width="1.7"/>
<g transform="translate(23.1,350.8) rotate(-90)"><text class="a i" x="-0.4" y="0">d</text><text class="a i" x="15.5" y="0">σ</text><text class="b i" x="31" y="8.8">n</text><text class="a i" x="51.2" y="0">/</text><text class="a i" x="68.5" y="0">d</text><text class="a" x="83.2" y="0">Ω</text><text class="a" x="119" y="0">(a.u.)</text></g>
<g transform="translate(23.4,652.7) rotate(-90)"><text class="a i" x="-0.5" y="0">σ</text><text class="b i" x="16.2" y="8.8">n</text><text class="a" x="44" y="0">(a.u.)</text></g>
</svg></body></html>
